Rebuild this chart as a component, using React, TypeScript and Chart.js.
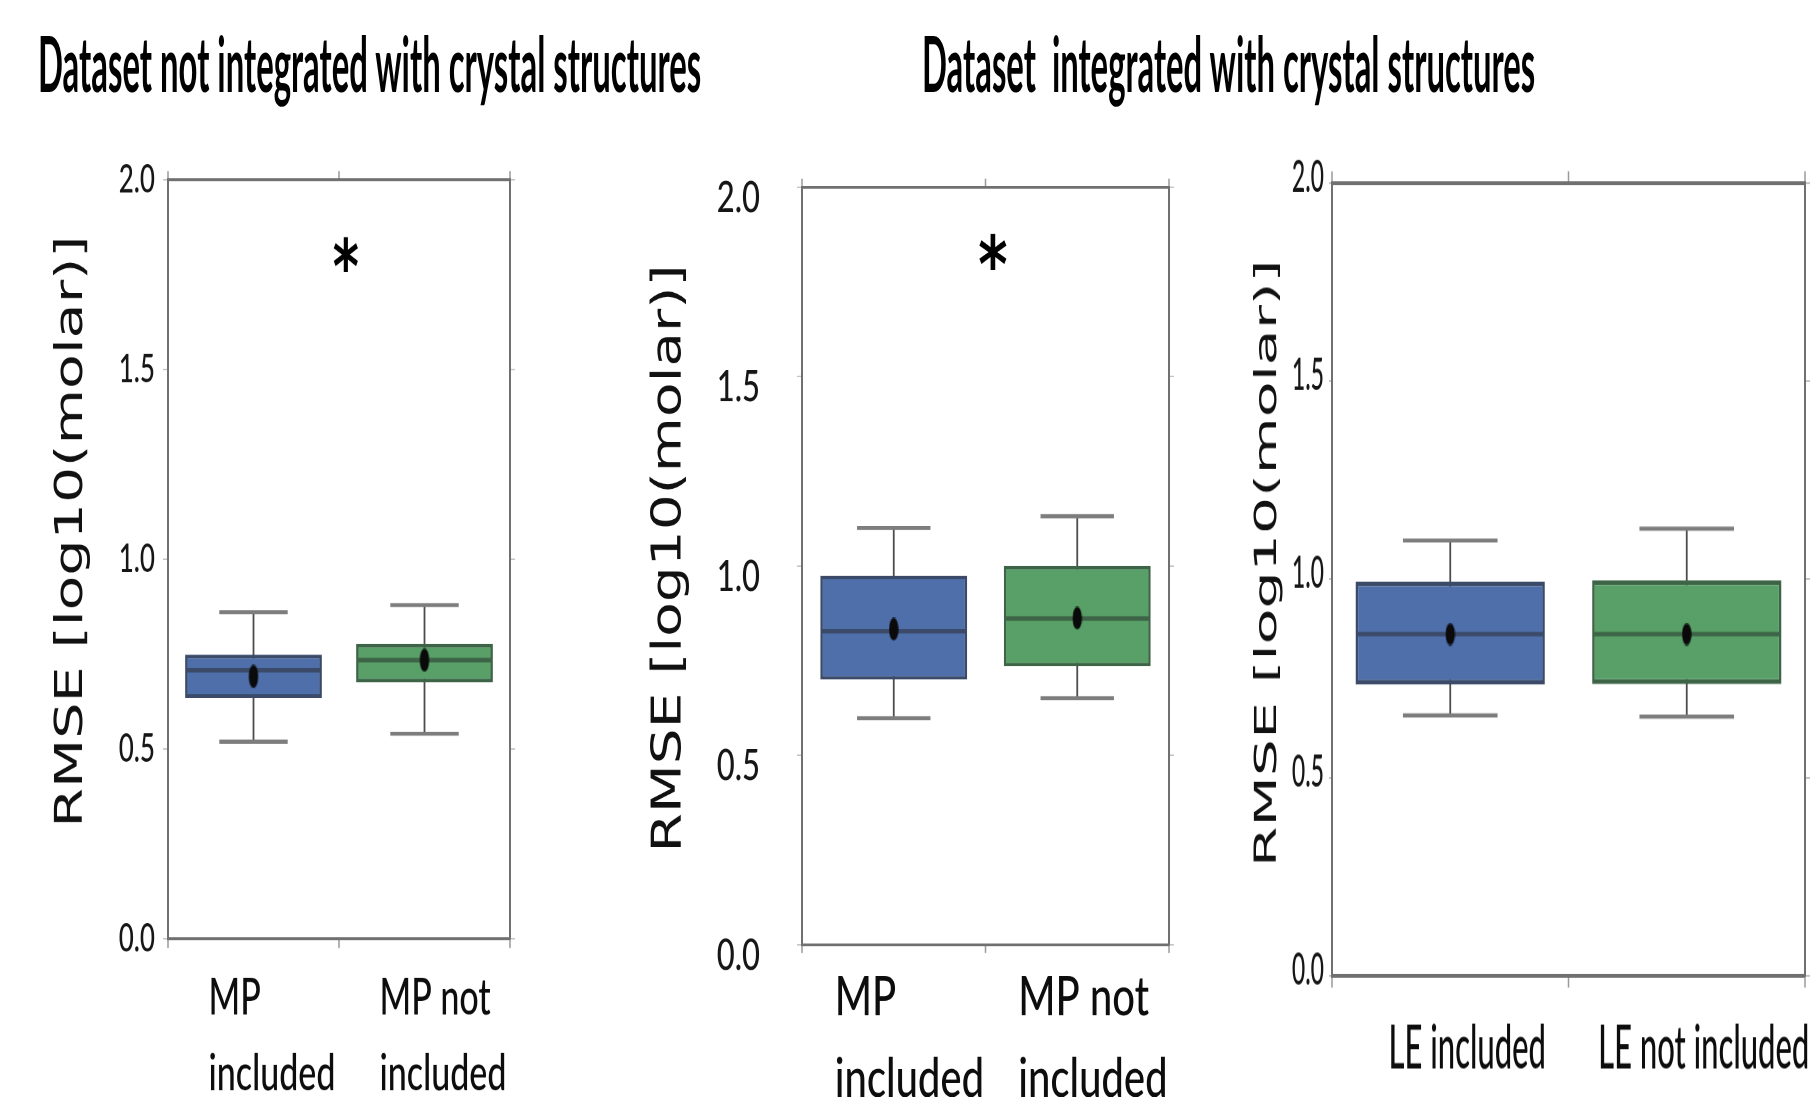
import React, { useEffect, useRef } from "react";
import { Chart, registerables } from "chart.js";

Chart.register(...registerables);

// ---------------- Data ----------------
const titleNotIntegrated = "Dataset not integrated with crystal structures";
const titleIntegrated = "Dataset  integrated with crystal structures";
const yAxisTitle = "RMSE [log10(molar)]";
const yMin = 0;
const yMax = 2;
const yStep = 0.5;

const mpLabels = [["MP", "included"], ["MP not", "included"]];
const leLabels = ["LE included", "LE not included"];

// Panel 1: not integrated, MP
const p1Low = [0.52, 0.541];
const p1Q1 = [0.635, 0.676];
const p1Median = [0.708, 0.735];
const p1Q3 = [0.749, 0.778];
const p1High = [0.861, 0.88];
const p1Mean = [0.692, 0.735];
const p1Marker = "*";
const p1MarkerAt = [0.54, 1.805]; // [category index, value]

// Panel 2: integrated, MP
const p2Low = [0.598, 0.651];
const p2Q1 = [0.7, 0.735];
const p2Median = [0.828, 0.861];
const p2Q3 = [0.974, 1.0];
const p2High = [1.1, 1.131];
const p2Mean = [0.833, 0.862];
const p2Marker = "*";
const p2MarkerAt = [0.54, 1.827];

// Panel 3: integrated, LE
const p3Low = [0.657, 0.654];
const p3Q1 = [0.735, 0.736];
const p3Median = [0.862, 0.862];
const p3Q3 = [0.995, 0.998];
const p3High = [1.098, 1.128];
const p3Mean = [0.862, 0.862];

// ---------------- Styles ----------------
const boxColors = ["#4f6faa", "#58a068"];
const boxEdgeColors = ["#3a4a68", "#3d6446"];
const whiskerColor = "#4d4d4d";
const capColor = "#7d7d7d";
const spineColor = "#707070";
const tickMarkColor = "#9a9a9a";

type Layout = {
  left: number;
  top: number;
  width: number;
  height: number;
  sy: number;
  leftW: number;
  rightW: number;
  topH: number;
  bottomH: number;
  tickFont: number;
  tickLen: number;
  tickPad: number;
  tickLabelOffset: number;
  titleFont: number;
  titleX: number;
  titleY: number;
  xFont: number;
  xLineHeight: number;
  xPad: number;
  xAlign: "start" | "center";
  xLabelOffset: number;
  starFont: number;
};

type PanelProps = {
  labels: (string | string[])[];
  low: number[];
  q1: number[];
  median: number[];
  q3: number[];
  high: number[];
  mean: number[];
  marker?: string;
  markerAt?: number[];
  layout: Layout;
};

function noPad(s: any) {
  s.paddingTop = 0;
  s.paddingBottom = 0;
  s.paddingLeft = 0;
  s.paddingRight = 0;
}

function makeDot(w: number, h: number) {
  const c = document.createElement("canvas");
  c.width = w;
  c.height = h;
  const g = c.getContext("2d") as CanvasRenderingContext2D;
  g.fillStyle = "#0a0a0a";
  g.beginPath();
  g.ellipse(w / 2, h / 2, w / 2 - 0.3, h / 2 - 0.3, 0, 0, Math.PI * 2);
  g.fill();
  return c;
}

function BoxPanel(p: PanelProps) {
  const ref = useRef<HTMLCanvasElement>(null);
  const L = p.layout;

  useEffect(() => {
    if (!ref.current) return;
    const dot = makeDot(10, Math.round(24 / L.sy));
    const extras = {
      id: "boxExtras",
      beforeDatasetsDraw(chart: any) {
        const ctx = chart.ctx;
        const xs = chart.scales.x;
        const ys = chart.scales.y;
        const meta = chart.getDatasetMeta(1);
        ctx.save();
        p.low.forEach((lo, i) => {
          const bar = meta.data[i] as any;
          const cx = xs.getPixelForValue(i);
          const half = bar.width / 4;
          const yLo = ys.getPixelForValue(lo);
          const yHi = ys.getPixelForValue(p.high[i]);
          ctx.strokeStyle = whiskerColor;
          ctx.lineWidth = 1.8;
          ctx.beginPath();
          ctx.moveTo(cx, yLo);
          ctx.lineTo(cx, yHi);
          ctx.stroke();
          ctx.strokeStyle = capColor;
          ctx.lineWidth = 4 / L.sy;
          ctx.beginPath();
          ctx.moveTo(cx - half, yLo);
          ctx.lineTo(cx + half, yLo);
          ctx.moveTo(cx - half, yHi);
          ctx.lineTo(cx + half, yHi);
          ctx.stroke();
        });
        ctx.restore();
      },
      afterDatasetDraw(chart: any, args: any) {
        if (args.index !== 1) return;
        const ctx = chart.ctx;
        const xs = chart.scales.x;
        const ys = chart.scales.y;
        const meta = chart.getDatasetMeta(1);
        ctx.save();
        ctx.lineWidth = 4.5 / L.sy;
        p.median.forEach((m, i) => {
          const bar = meta.data[i] as any;
          const cx = xs.getPixelForValue(i);
          const half = bar.width / 2 - 1;
          const y = ys.getPixelForValue(m);
          ctx.strokeStyle = boxEdgeColors[i % boxEdgeColors.length];
          ctx.beginPath();
          ctx.moveTo(cx - half, y);
          ctx.lineTo(cx + half, y);
          ctx.stroke();
        });
        ctx.restore();
      },
      afterDatasetsDraw(chart: any) {
        const ctx = chart.ctx;
        // y-axis title
        ctx.save();
        ctx.translate(L.titleX, L.titleY);
        ctx.rotate(-Math.PI / 2);
        ctx.font = `${L.titleFont}px "DejaVu Sans"`;
        ctx.fillStyle = "#111";
        ctx.textAlign = "center";
        ctx.textBaseline = "middle";
        ctx.fillText(yAxisTitle, 0, 0);
        ctx.restore();

        if (!p.marker || !p.markerAt) return;
        const xs = chart.scales.x;
        const ys = chart.scales.y;
        const x = xs.getPixelForValue(p.markerAt[0]);
        const yc = ys.getPixelForValue(p.markerAt[1]);
        ctx.save();
        ctx.font = `bold ${L.starFont}px "DejaVu Sans"`;
        ctx.fillStyle = "#000";
        ctx.textAlign = "center";
        ctx.textBaseline = "alphabetic";
        const m = ctx.measureText(p.marker);
        const baseline = yc - (m.actualBoundingBoxDescent - m.actualBoundingBoxAscent) / 2;
        ctx.fillText(p.marker, x, baseline);
        ctx.restore();
      },
    };

    const chart = new Chart(ref.current, {
      type: "bar",
      data: {
        labels: p.labels as any,
        datasets: [
          {
            type: "line",
            label: "mean",
            data: p.mean,
            showLine: false,
            pointStyle: dot,
            pointRadius: 6,
            order: 0,
          } as any,
          {
            type: "bar",
            label: "box",
            data: p.q1.map((v, i) => [v, p.q3[i]]),
            backgroundColor: boxColors,
            borderColor: boxEdgeColors,
            borderWidth: 2.5,
            borderSkipped: false,
            barPercentage: 0.8,
            categoryPercentage: 1.0,
            order: 1,
          } as any,
        ],
      },
      options: {
        animation: false,
        responsive: false,
        maintainAspectRatio: false,
        devicePixelRatio: 2,
        layout: { padding: 0 },
        plugins: {
          legend: { display: false },
          tooltip: { enabled: false },
          title: { display: false },
        },
        scales: {
          x: {
            type: "category",
            position: "bottom",
            offset: true,
            grid: {
              display: true,
              drawOnChartArea: false,
              drawTicks: true,
              tickLength: 6,
              tickColor: tickMarkColor,
              tickWidth: 1.5,
            },
            border: { display: true, color: spineColor, width: 2 },
            ticks: {
              autoSkip: false,
              maxRotation: 0,
              minRotation: 0,
              align: L.xAlign,
              labelOffset: L.xLabelOffset,
              padding: L.xPad,
              color: "#0d0d0d",
              font: { family: "Lato", weight: "500", size: L.xFont, lineHeight: L.xLineHeight },
            },
            afterFit: (s: any) => {
              s.height = L.bottomH;
              noPad(s);
            },
          },
          xTop: {
            type: "category",
            position: "top",
            offset: true,
            grid: {
              display: true,
              drawOnChartArea: false,
              drawTicks: true,
              tickLength: 6,
              tickColor: tickMarkColor,
              tickWidth: 1.5,
            },
            border: { display: true, color: spineColor, width: 2 },
            ticks: { display: false },
            afterFit: (s: any) => {
              s.height = L.topH;
              noPad(s);
            },
          },
          y: {
            type: "linear",
            position: "left",
            min: yMin,
            max: yMax,
            grid: {
              display: true,
              drawOnChartArea: false,
              drawTicks: true,
              tickLength: L.tickLen,
              tickColor: "#c4c4c4",
            },
            border: { display: true, color: spineColor, width: 2 },
            ticks: {
              stepSize: yStep,
              padding: L.tickPad,
              labelOffset: L.tickLabelOffset,
              color: "#161616",
              font: { family: "Lato", weight: "500", size: L.tickFont },
              callback: (v: any) => Number(v).toFixed(1),
            },
            title: { display: false, text: yAxisTitle },
            afterFit: (s: any) => {
              s.width = L.leftW;
              noPad(s);
            },
          },
          yRight: {
            type: "linear",
            position: "right",
            min: yMin,
            max: yMax,
            grid: {
              display: true,
              drawOnChartArea: false,
              drawTicks: true,
              tickLength: 5,
              tickColor: "#c4c4c4",
            },
            border: { display: true, color: spineColor, width: 2 },
            ticks: { display: false, stepSize: yStep },
            afterFit: (s: any) => {
              s.width = L.rightW;
              noPad(s);
            },
          },
        },
      } as any,
      plugins: [extras as any],
    });
    return () => chart.destroy();
  }, []);

  return (
    <div
      style={{
        position: "absolute",
        left: L.left,
        top: L.top,
        width: L.width,
        height: L.height,
        transform: `scaleY(${L.sy})`,
        transformOrigin: "0 0",
      }}
    >
      <canvas ref={ref} width={L.width} height={L.height} style={{ display: "block" }} />
    </div>
  );
}

function StretchedTitle(props: { text: string; left: number; capTop: number; width: number; capHeight: number }) {
  const fontSize = 40;
  const ctx = document.createElement("canvas").getContext("2d") as CanvasRenderingContext2D;
  ctx.font = `bold ${fontSize}px Lato`;
  const m = ctx.measureText(props.text);
  const d = ctx.measureText("D");
  const asc = m.fontBoundingBoxAscent || fontSize * 0.987;
  const desc = m.fontBoundingBoxDescent || fontSize * 0.213;
  const capAsc = d.actualBoundingBoxAscent || fontSize * 0.7165;
  const inkW = (m.actualBoundingBoxLeft || 0) + (m.actualBoundingBoxRight || m.width);
  const sx = props.width / inkW;
  const sy = props.capHeight / capAsc;
  const divLeft = props.left + sx * (m.actualBoundingBoxLeft || 0);
  const top = props.capTop - sy * (asc - capAsc);
  return (
    <div
      style={{
        position: "absolute",
        left: divLeft,
        top,
        fontFamily: "Lato",
        fontWeight: 700,
        fontSize,
        lineHeight: `${asc + desc}px`,
        whiteSpace: "pre",
        color: "#000",
        transform: `scale(${sx}, ${sy})`,
        transformOrigin: "0 0",
      }}
    >
      {props.text}
    </div>
  );
}

const layout1: Layout = {
  left: 0, top: 140, width: 540, height: 638, sy: 1.5,
  leftW: 168, rightW: 30, topH: 26.67, bottomH: 105.33,
  tickFont: 26, tickLen: 5, tickPad: 8, tickLabelOffset: 0,
  titleFont: 38, titleX: 72, titleY: 261,
  xFont: 34, xLineHeight: 1.49, xPad: 8, xAlign: "start", xLabelOffset: -45,
  starFont: 50,
};

const layout2: Layout = {
  left: 560, top: 150, width: 640, height: 686.2, sy: 1.38,
  leftW: 242, rightW: 31, topH: 26.8, bottomH: 110.1,
  tickFont: 31, tickLen: 5, tickPad: 37, tickLabelOffset: 8,
  titleFont: 41, titleX: 110, titleY: 296,
  xFont: 40, xLineHeight: 1.47, xPad: 3, xAlign: "start", xLabelOffset: -59,
  starFont: 56,
};

const layout3: Layout = {
  left: 1200, top: 150, width: 612, height: 485.6, sy: 1.95,
  leftW: 132, rightW: 3, topH: 16.9, bottomH: 61.5,
  tickFont: 23, tickLen: 3, tickPad: 5, tickLabelOffset: -3,
  titleFont: 30, titleX: 68, titleY: 212,
  xFont: 31, xLineHeight: 1.2, xPad: 13, xAlign: "center", xLabelOffset: 17,
  starFont: 50,
};

export default function App() {
  return (
    <div
      style={{
        position: "absolute",
        left: 0,
        top: 0,
        width: 1812,
        height: 1097,
        overflow: "hidden",
        background: "#fff",
      }}
    >
      <StretchedTitle text={titleNotIntegrated} left={40} capTop={37} width={661} capHeight={55} />
      <StretchedTitle text={titleIntegrated} left={924} capTop={37} width={611} capHeight={55} />
      <BoxPanel
        labels={mpLabels}
        low={p1Low}
        q1={p1Q1}
        median={p1Median}
        q3={p1Q3}
        high={p1High}
        mean={p1Mean}
        marker={p1Marker}
        markerAt={p1MarkerAt}
        layout={layout1}
      />
      <BoxPanel
        labels={mpLabels}
        low={p2Low}
        q1={p2Q1}
        median={p2Median}
        q3={p2Q3}
        high={p2High}
        mean={p2Mean}
        marker={p2Marker}
        markerAt={p2MarkerAt}
        layout={layout2}
      />
      <BoxPanel
        labels={leLabels}
        low={p3Low}
        q1={p3Q1}
        median={p3Median}
        q3={p3Q3}
        high={p3High}
        mean={p3Mean}
        layout={layout3}
      />
    </div>
  );
}
